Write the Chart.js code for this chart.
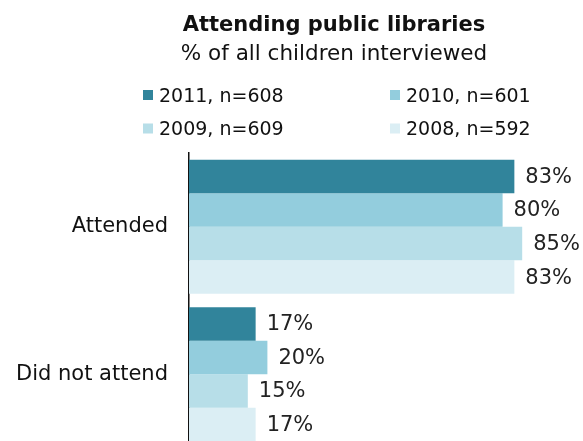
<!DOCTYPE html>
<html>
<head>
<meta charset="utf-8">
<script src="https://cdn.jsdelivr.net/npm/chart.js@4/dist/chart.umd.min.js"></script>
<style>
  html, body { margin: 0; padding: 0; background: #fff; overflow: hidden; }
  #wrap { width: 583px; height: 441px; overflow: hidden; }
</style>
</head>
<body>
<div id="wrap"><canvas id="chart" width="583" height="448"></canvas></div>
<script>
const categories = ['Attended', 'Did not attend'];
const seriesLabels = ['2011, n=608', '2010, n=601', '2009, n=609', '2008, n=592'];
const values2011 = [83, 17];
const values2010 = [80, 20];
const values2009 = [85, 15];
const values2008 = [83, 17];
const colors = ['#31849b', '#93cddd', '#b7dee8', '#dbeef4'];

const FONT = '"DejaVu Sans", Verdana, sans-serif';

// title, subtitle and the two-column legend above the bars
const headerPlugin = {
    id: 'header',
    afterDraw(chart) {
        const ctx = chart.ctx;
        ctx.save();
        ctx.fillStyle = '#111';
        ctx.textAlign = 'center';
        ctx.textBaseline = 'alphabetic';
        ctx.font = 'bold 21px ' + FONT;
        ctx.fillText('Attending public libraries', 334, 31);
        ctx.font = '21.5px ' + FONT;
        ctx.fillText('% of all children interviewed', 334, 60);

        ctx.textAlign = 'left';
        ctx.font = '19px ' + FONT;
        chart.data.datasets.forEach((ds, i) => {
            const x = i % 2 === 0 ? 143 : 390;
            const y = i < 2 ? 101.5 : 135;
            ctx.fillStyle = ds.backgroundColor;
            ctx.fillRect(x, y - 11.5, 10, 10);
            ctx.fillStyle = '#111';
            ctx.fillText(ds.label, x + 16, y);
        });
        ctx.restore();
    }
};

// percentage labels at the end of each bar
const valueLabels = {
    id: 'valueLabels',
    afterDatasetsDraw(chart) {
        const ctx = chart.ctx;
        ctx.save();
        ctx.font = '21px ' + FONT;
        ctx.fillStyle = '#222';
        ctx.textAlign = 'left';
        ctx.textBaseline = 'middle';
        chart.data.datasets.forEach((ds, i) => {
            chart.getDatasetMeta(i).data.forEach((bar, j) => {
                ctx.fillText(ds.data[j] + '%', bar.x + 11, bar.y + 1);
            });
        });
        ctx.restore();
    }
};

const allValues = [values2011, values2010, values2009, values2008];

new Chart(document.getElementById('chart').getContext('2d'), {
    type: 'bar',
    data: {
        labels: categories,
        datasets: allValues.map((vals, i) => ({
            label: seriesLabels[i],
            data: vals,
            backgroundColor: colors[i],
            borderWidth: 0,
            categoryPercentage: 0.91,
            barPercentage: 1
        }))
    },
    options: {
        indexAxis: 'y',
        responsive: false,
        animation: false,
        layout: { padding: { top: 153, right: 2, left: 0, bottom: 0 } },
        plugins: {
            legend: { display: false },
            tooltip: { enabled: false }
        },
        scales: {
            x: {
                display: false,
                min: 0,
                max: 100
            },
            y: {
                afterFit(scale) {
                    scale.width = 189;
                    // bars run to the bottom edge; no room kept for half-labels
                    scale.paddingTop = 0;
                    scale.paddingBottom = 0;
                },
                grid: { display: false, drawTicks: false },
                border: { display: true, color: '#111', width: 1.5 },
                ticks: {
                    color: '#111',
                    padding: 21,
                    font: { family: FONT, size: 21 }
                }
            }
        }
    },
    plugins: [headerPlugin, valueLabels]
});
</script>
</body>
</html>
